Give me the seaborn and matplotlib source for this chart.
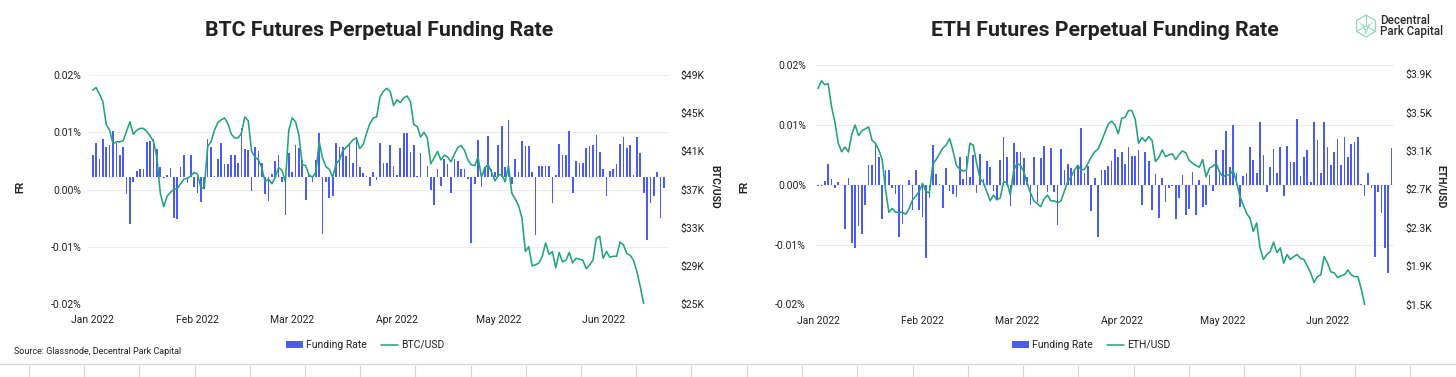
import numpy as np
import pandas as pd
import seaborn as sns
import matplotlib.pyplot as plt
import matplotlib.dates as mdates
from matplotlib.patches import Rectangle, Polygon
from matplotlib.lines import Line2D
from matplotlib.ticker import FixedLocator, FuncFormatter

# daily data from 2022-01-01, funding rate in % and price in $K
start_date = '2022-01-01'

btc_funding = [
    0.0060, 0.0081, 0.0054, 0.0089, 0.0075, 0.0078, 0.0103, 0.0082, 0.0060, 0.0074,
    -0.0008, -0.0060, 0.0013, 0.0032, 0.0036, 0.0036, 0.0083, 0.0085, 0.0089, 0.0070,
    0.0039, 0.0020, 0.0026,
    0.0037, -0.0050, -0.0051, 0.0040, 0.0061, 0.0012, 0.0061, 0.0004, -0.0006, -0.0022,
    0.0001, 0.0088, 0.0074, 0.0023, 0.0054, 0.0082, 0.0044, 0.0044, 0.0060, 0.0061,
    0.0046, 0.0108, 0.0071, 0.0069, -0.0003, 0.0074, 0.0067, 0.0047, -0.0008, -0.0020,
    0.0027,
    0.0049, 0.0061, 0.0013, -0.0044, 0.0064, 0.0030, 0.0077, 0.0073, 0.0051, -0.0019,
    0.0027, 0.0013, 0.0051, 0.0098, -0.0078, 0.0013, -0.0015, -0.0011, 0.0081, 0.0075,
    0.0075, 0.0058, 0.0079, 0.0046, 0.0091, 0.0040, 0.0029, 0.0023, 0.0006, 0.0030,
    0.0016,
    0.0081, 0.0046, 0.0046, 0.0077, 0.0041, 0.0026, 0.0073, 0.0099, 0.0099, 0.0066,
    0.0077, 0.0023, 0.0064, 0.0022, 0.0041, 0.0000, -0.0027, 0.0035, 0.0006, 0.0054,
    0.0044, -0.0006, 0.0054, 0.0050, 0.0036, 0.0035, 0.0018, -0.0094, 0.0009, 0.0086,
    0.0005, 0.0040,
    0.0094, 0.0035, 0.0030, 0.0078, 0.0111, 0.0040, 0.0121, 0.0010, 0.0053, 0.0030,
    0.0085, 0.0076, 0.0076, 0.0030, -0.0079, 0.0041, 0.0041, 0.0041, 0.0041, -0.0023,
    0.0025, 0.0079, 0.0061, 0.0061, 0.0102, -0.0006, 0.0050, 0.0047, 0.0047, 0.0073,
    0.0076, 0.0078, 0.0096, 0.0065, 0.0035, -0.0012, 0.0032, 0.0035, 0.0044, 0.0079,
    0.0092, 0.0073, 0.0078, 0.0025, 0.0092, 0.0063, -0.0006, -0.0088, -0.0023, -0.0011,
    0.0030, -0.0050, 0.0003,
]

btc_price = [
    47.4, 47.7, 47.0, 46.2, 43.8, 43.2, 41.8, 42.0, 42.0, 42.1,
    43.1, 44.1, 42.8, 43.2, 43.4, 43.4, 43.1, 42.6, 42.0, 40.3,
    36.6, 35.2, 36.3, 36.7, 37.0, 37.1, 37.6, 38.1, 38.2, 38.4,
    38.8, 38.6, 37.2, 37.1, 41.5, 42.0, 43.2, 44.0, 44.3, 44.5,
    43.9, 42.8, 42.4, 42.4, 42.9, 44.6, 44.2, 41.0, 40.4, 40.1,
    39.3, 37.8, 38.1, 37.6, 38.3, 39.3, 39.0, 37.8, 43.2, 44.5,
    44.1, 42.7, 39.6, 39.5, 38.5, 38.3, 38.8, 42.0, 40.3, 39.4,
    39.1, 38.3, 39.7, 40.1, 41.1, 41.4, 41.8, 42.2, 42.4, 41.3,
    41.7, 42.9, 43.9, 44.5, 44.6, 46.7, 47.3, 47.6, 47.3, 45.8,
    46.4, 46.1, 46.6, 46.8, 46.2, 43.8, 43.6, 42.5, 43.0, 42.4,
    39.7, 40.3, 41.0, 40.1, 40.6, 40.4, 39.9, 40.7, 41.4, 41.6,
    41.1, 40.1, 39.6, 39.5, 40.4, 38.3, 39.3, 39.6, 38.8, 37.9,
    38.5, 38.6, 37.8, 39.5, 36.6, 36.0, 35.3, 34.0, 30.5, 31.0,
    29.0, 29.1, 29.3, 30.0, 31.4, 30.2, 30.5, 28.8, 30.4, 29.4,
    29.6, 30.4, 29.3, 29.8, 29.7, 29.6, 28.7, 29.1, 29.6, 31.9,
    32.1, 29.8, 30.5, 29.9, 30.0, 30.0, 31.5, 31.2, 30.3, 30.1,
    29.6, 28.4, 26.8, 25.0,
]

eth_funding = [
    -0.0002, -0.0002, 0.0006, 0.0034, 0.0009, -0.0006, 0.0005, -0.0001, -0.0074, 0.0012,
    -0.0098, -0.0105, -0.0069, -0.0083, -0.0033, 0.0033, 0.0033, 0.0070, 0.0046, -0.0058,
    0.0024, 0.0024, -0.0005,
    -0.0015, -0.0087, -0.0065, 0.0000, 0.0008, -0.0043, 0.0024, -0.0043, -0.0054, -0.0122,
    -0.0022, 0.0067, 0.0018, 0.0002, -0.0039, 0.0028, -0.0011, -0.0016, -0.0020, 0.0046,
    0.0010, 0.0048, 0.0013, 0.0049, -0.0014, 0.0052, 0.0010, 0.0039, 0.0029, -0.0011,
    -0.0026, 0.0041,
    0.0080, 0.0046, -0.0035, 0.0070, 0.0054, 0.0054, 0.0045, 0.0013, -0.0033, 0.0046,
    -0.0028, 0.0045, 0.0065, -0.0012, 0.0061, -0.0012, -0.0068, 0.0060, 0.0024, 0.0035,
    0.0028, 0.0024, 0.0033, 0.0095, 0.0019, 0.0031, -0.0044, 0.0011, -0.0087, 0.0024,
    0.0024,
    0.0031, 0.0039, 0.0060, 0.0046, 0.0054, 0.0035, 0.0063, 0.0048, 0.0048, 0.0058,
    -0.0033, 0.0054, 0.0039, -0.0043, 0.0018, -0.0055, 0.0011, -0.0028, -0.0005, -0.0002,
    -0.0058, -0.0022, 0.0017, -0.0050, -0.0040, 0.0021, -0.0050, 0.0008, -0.0037, -0.0034,
    0.0017,
    -0.0010, 0.0058, 0.0025, 0.0058, 0.0089, 0.0030, 0.0099, 0.0020, -0.0037, 0.0015,
    0.0020, 0.0063, 0.0041, 0.0020, 0.0105, 0.0049, -0.0012, 0.0030, 0.0059, 0.0020,
    0.0063, -0.0018, 0.0064, 0.0038, 0.0038, 0.0110, 0.0015, 0.0047, 0.0058, 0.0005,
    0.0105, 0.0075, 0.0020, 0.0105, 0.0063, 0.0033, 0.0055, 0.0077, 0.0033, 0.0079,
    0.0047, 0.0068, 0.0071, 0.0080, 0.0002, -0.0019, 0.0020, -0.0005, -0.0120, -0.0012,
    -0.0047, -0.0106, -0.0148, 0.0062,
]

eth_price = [
    3.75, 3.83, 3.79, 3.80, 3.56, 3.40, 3.18, 3.09, 3.14, 3.09,
    3.27, 3.37, 3.26, 3.31, 3.33, 3.35, 3.21, 3.18, 3.11, 3.01,
    2.70, 2.46, 2.50, 2.46, 2.46, 2.46, 2.44, 2.50, 2.59, 2.63,
    2.68, 2.76, 2.68, 2.66, 2.96, 3.01, 3.07, 3.13, 3.16, 3.23,
    3.10, 2.95, 2.91, 2.89, 2.90, 3.18, 3.16, 2.97, 2.81, 2.77,
    2.68, 2.58, 2.64, 2.59, 2.61, 2.78, 2.77, 2.64, 2.90, 2.97,
    2.95, 2.88, 2.76, 2.66, 2.58, 2.55, 2.52, 2.60, 2.64, 2.58,
    2.58, 2.56, 2.58, 2.68, 2.78, 2.83, 2.90, 2.95, 2.90, 2.91,
    2.97, 3.04, 3.09, 3.12, 3.20, 3.29, 3.38, 3.41, 3.37, 3.28,
    3.44, 3.45, 3.52, 3.52, 3.43, 3.18, 3.24, 3.20, 3.25, 3.21,
    2.99, 3.03, 3.11, 3.04, 3.06, 3.07, 3.01, 3.06, 3.10, 3.08,
    3.00, 2.97, 2.95, 2.93, 3.01, 2.83, 2.92, 2.94, 2.97, 2.88,
    2.83, 2.85, 2.85, 2.90, 2.78, 2.63, 2.54, 2.45, 2.40, 2.26,
    2.35, 2.09, 1.97, 2.02, 2.05, 2.15, 2.04, 2.09, 1.93, 2.02,
    1.97, 2.00, 2.02, 1.98, 1.97, 1.90, 1.83, 1.73, 1.79, 1.81,
    2.00, 1.93, 1.84, 1.83, 1.78, 1.80, 1.81, 1.86, 1.81, 1.79,
    1.79, 1.66, 1.50,
]

fr_ticks = [-0.02, -0.01, 0.0, 0.01, 0.02]
btc_ticks = [25, 29, 33, 37, 41, 45, 49]
eth_ticks = [1.5, 1.9, 2.3, 2.7, 3.1, 3.5, 3.9]

BAR_COLOR = '#4b5cf6'
LINE_COLOR = '#22a37f'
TEXT_COLOR = '#222222'

sns.set_theme(style='white')
plt.rcParams['font.family'] = ['Roboto', 'DejaVu Sans']

W, H = 1456, 377
fig = plt.figure(figsize=(W / 100, H / 100), dpi=100)
fig.patch.set_facecolor('white')


def px(x0, y0, x1, y1):
    # pixel box -> figure fraction rect
    return [x0 / W, 1 - y1 / H, (x1 - x0) / W, (y1 - y0) / H]


def draw_panel(rect, fr, price, bar_base, xlim_days, right_ticks, right_lim, right_fmt,
               lpad, rpad):
    ax = fig.add_axes(rect)
    dates_fr = pd.date_range(start_date, periods=len(fr), freq='D')
    dates_px = pd.date_range(start_date, periods=len(price), freq='D')
    x0 = pd.Timestamp(start_date)

    heights = np.array(fr) - bar_base
    ax.bar(dates_fr, heights, bottom=bar_base, width=0.5, color=BAR_COLOR,
           linewidth=0, zorder=2)
    ax.set_ylim(-0.02, 0.02)
    ax.yaxis.set_major_locator(FixedLocator(fr_ticks))
    ax.yaxis.set_major_formatter(FuncFormatter(lambda v, p: f'{v:.2f}%'))
    ax.yaxis.grid(True, color='#ececec', linewidth=0.8, zorder=0)
    ax.xaxis.grid(False)
    ax.set_axisbelow(True)

    ax2 = ax.twinx()
    sns.lineplot(x=dates_px, y=price, ax=ax2, color=LINE_COLOR, linewidth=1.15)
    ax2.set_ylim(*right_lim)
    ax2.yaxis.set_major_locator(FixedLocator(right_ticks))
    ax2.yaxis.set_major_formatter(FuncFormatter(right_fmt))
    ax2.grid(False)
    ax2.set_ylabel('')

    ax.set_xlim(x0 + pd.Timedelta(days=xlim_days[0]), x0 + pd.Timedelta(days=xlim_days[1]))
    ax.xaxis.set_major_locator(mdates.MonthLocator())
    ax.xaxis.set_major_formatter(mdates.DateFormatter('%b %Y'))

    for a in (ax, ax2):
        for s in a.spines.values():
            s.set_visible(False)
        a.tick_params(length=0, labelsize=7.5, colors=TEXT_COLOR)
    ax.tick_params(axis='x', pad=8)
    ax.tick_params(axis='y', pad=lpad)
    ax2.tick_params(axis='y', pad=rpad)
    return ax, ax2


draw_panel(px(88, 75, 668, 304), btc_funding, btc_price, 0.0021, (-1.4, 170.2),
           btc_ticks, (25, 49), lambda v, p: f'${v:.0f}K', 4.5, 9)
draw_panel(px(815, 65, 1394, 304.5), eth_funding, eth_price, 0.0, (-0.9, 170.7),
           eth_ticks, (1.5, 3.995), lambda v, p: f'${v:.1f}K', 6.5, 8)

# titles and axis names
fig.text(379 / W, 1 - 30 / H, 'BTC Futures Perpetual Funding Rate', ha='center', va='center',
         fontsize=15.3, fontweight='bold', color=TEXT_COLOR)
fig.text(1105 / W, 1 - 31 / H, 'ETH Futures Perpetual Funding Rate', ha='center', va='center',
         fontsize=15.3, fontweight='bold', color=TEXT_COLOR)
for xpos, lab, rot in [(20, 'FR', 90), (715, 'BTC/USD', 270), (744, 'FR', 90), (1441, 'ETH/USD', 270)]:
    fig.text(xpos / W, 1 - 187 / H, lab, rotation=rot, ha='center', va='center',
             fontsize=7.5, fontweight='bold', color=TEXT_COLOR)

# legends
for cx, name in [(365, 'BTC/USD'), (1091, 'ETH/USD')]:
    handles = [Rectangle((0, 0), 1, 1, facecolor=BAR_COLOR, edgecolor='none'),
               Line2D([0], [0], color=LINE_COLOR, lw=1.1)]
    fig.legend(handles, ['Funding Rate', name], loc='center', bbox_to_anchor=(cx / W, 1 - 345 / H),
               ncol=2, frameon=False, fontsize=7.5, handlelength=1.6, handleheight=0.6,
               handletextpad=0.3, columnspacing=1.4, labelcolor=TEXT_COLOR)

fig.text(14 / W, 1 - 352 / H, 'Source: Glassnode, Decentral Park Capital', ha='left', va='center',
         fontsize=6.5, color=TEXT_COLOR)

# logo top right
fig.text(1380 / W, 1 - 21 / H, 'Decentral', ha='left', va='center', fontsize=8.3,
         fontweight='medium', color='#2a2a2a')
fig.text(1380 / W, 1 - 31.5 / H, 'Park Capital', ha='left', va='center', fontsize=8.3,
         fontweight='medium', color='#2a2a2a')
lax = fig.add_axes(px(1354, 14, 1378, 38))
lax.set_xlim(-1.1, 1.1)
lax.set_ylim(-1.1, 1.1)
lax.axis('off')
ang = np.deg2rad(np.arange(6) * 60 + 30)
hexpts = np.column_stack([np.cos(ang), np.sin(ang)])
lax.add_patch(Polygon(hexpts, closed=True, fill=False, edgecolor='#93d8c0', lw=0.9))
for a in (np.deg2rad(90), np.deg2rad(210), np.deg2rad(330)):
    lax.plot([0, np.cos(a)], [0, np.sin(a)], color='#93d8c0', lw=0.8)
for t in (0.35, 0.7):
    lax.plot([-np.cos(np.deg2rad(30)) * (1 - t), 0], [0.5 - 0.5 * t, -t], color='#93d8c0', lw=0.6)
    lax.plot([np.cos(np.deg2rad(30)) * (1 - t), 0], [0.5 - 0.5 * t, -t], color='#93d8c0', lw=0.6)

# bottom strip of the screenshot
fig.add_artist(Line2D([0, 1], [1 - 364 / H] * 2, color='#d9d9d9', lw=1.0, transform=fig.transFigure))
for k in range(13):
    for xs in (29 + 55.2 * k, 746.6 + 55.3 * k):
        fig.add_artist(Line2D([xs / W] * 2, [0, 1 - 366 / H], color='#d4d4d4', lw=0.8,
                              transform=fig.transFigure))

fig.savefig('out.png', dpi=100, facecolor='white')
